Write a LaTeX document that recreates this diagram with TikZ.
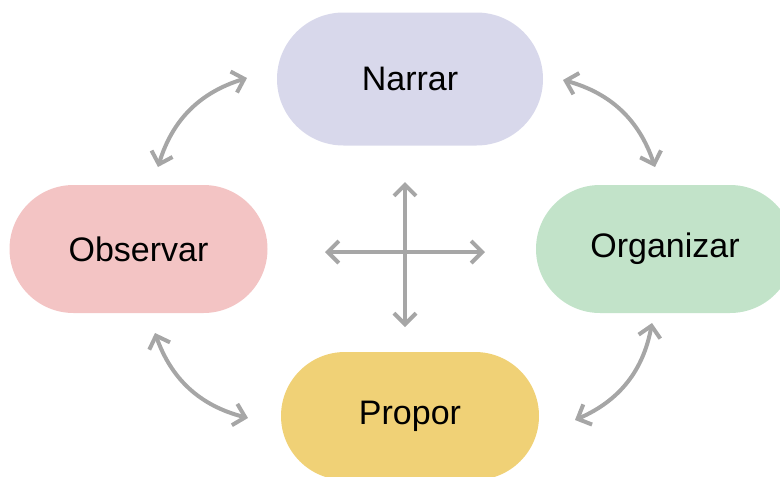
\documentclass[tikz,border=0pt]{standalone}
\usepackage{fontspec}
\setmainfont{Liberation Sans}
\usetikzlibrary{arrows.meta,shapes.misc}
\definecolor{cNarrar}{RGB}{216,216,235}
\definecolor{cObs}{RGB}{243,196,196}
\definecolor{cOrg}{RGB}{194,227,201}
\definecolor{cProp}{RGB}{240,209,118}
\definecolor{cArrow}{RGB}{166,166,166}
\tikzset{
  pill/.style={rounded rectangle, minimum width=258pt, minimum height=128pt, inner sep=0pt,
    font=\fontsize{34}{40}\selectfont, text=black},
  link/.style={draw=cArrow, line width=4pt, line cap=round,
    {Straight Barb[length=11pt,width=22pt,line width=4pt]}-{Straight Barb[length=11pt,width=22pt,line width=4pt]}},
}
\begin{document}
\begin{tikzpicture}[x=1pt,y=-1pt]
\useasboundingbox (0,0) rectangle (780,477);
\clip (0,0) rectangle (780,477);
\node[pill, fill=cNarrar, minimum width=266pt, minimum height=133pt] (narrar) at (410,79) {Narrar};
\node[pill, fill=cObs] (obs) at (138.5,249) {Observar};
\node[pill, fill=cOrg] (org) at (665,249) {Organizar};
\node[pill, fill=cProp] (prop) at (410,416) {Propor};
% curved connector endpoints
\coordinate (tl1) at (158,167);
\coordinate (tl2) at (247,78);
\coordinate (tr1) at (563,80);
\coordinate (tr2) at (655,167);
\coordinate (br1) at (652,323);
\coordinate (br2) at (575,420);
\coordinate (bl1) at (155,333);
\coordinate (bl2) at (248,418);
% cross
\coordinate (ct) at (405,182);
\coordinate (cb) at (405,327);
\coordinate (cl) at (325,252);
\coordinate (cr) at (485,252);
\draw[link] (tl1) to[bend left=28] (tl2);
\draw[link] (tr1) to[bend left=28] (tr2);
\draw[link] (br1) to[bend left=28] (br2);
\draw[link] (bl2) to[bend right=-28] (bl1);
\draw[link] (ct) -- (cb);
\draw[link] (cl) -- (cr);
\end{tikzpicture}
\end{document}
